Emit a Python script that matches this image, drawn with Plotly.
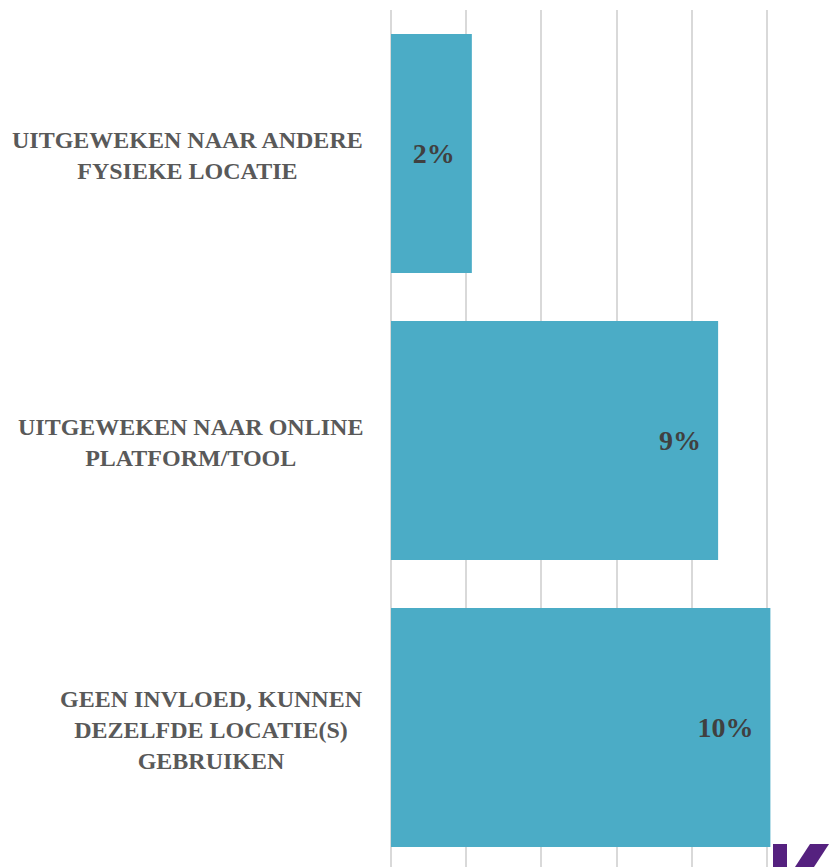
import plotly.graph_objects as go

categories = [
    "UITGEWEKEN NAAR ANDERE<br>FYSIEKE LOCATIE",
    "UITGEWEKEN NAAR ONLINE<br>PLATFORM/TOOL",
    "GEEN INVLOED, KUNNEN<br>DEZELFDE LOCATIE(S)<br>GEBRUIKEN",
]
values = [2.15, 8.7, 10.09]
value_labels = ["2%", "9%", "10%"]

W, H = 831, 867
L, R, T, B = 391, 0, 10, 0
plot_w = W - L - R
px_per_pct = 37.6

fig = go.Figure()
fig.add_trace(go.Bar(
    y=categories,
    x=values,
    orientation="h",
    marker=dict(color="#4BACC6", line=dict(width=0)),
    text=[t + "\u00a0\u00a0" for t in value_labels],
    textposition="inside",
    insidetextanchor="end",
    textangle=0,
    insidetextfont=dict(family="Liberation Serif", size=28, color="#404040", weight="bold"),
    hoverinfo="skip",
))

for c in categories:
    fig.add_annotation(
        x=-26 / plot_w, xref="paper", xanchor="right",
        y=c, yref="y", yanchor="middle", yshift=-2,
        text=c, showarrow=False, align="center",
        font=dict(family="Liberation Serif", size=24, color="#595959", weight="bold"),
    )

# decorative logo fragment at bottom-right
def px(xp):
    return (xp - L) / plot_w

def py(yp):
    return (H - B - yp) / (H - T - B)

fig.add_shape(type="rect", xref="paper", yref="paper",
              x0=px(773), x1=px(787), y0=py(867), y1=py(844),
              fillcolor="#55217F", line=dict(width=0), layer="above")
path = "M {} {} L {} {} L {} {} L {} {} Z".format(
    px(795), py(867), px(810), py(844), px(829), py(844), px(814), py(867))
fig.add_shape(type="path", xref="paper", yref="paper", path=path,
              fillcolor="#55217F", line=dict(width=0), layer="above")

fig.update_layout(
    width=W, height=H,
    margin=dict(l=L, r=R, t=T, b=B, pad=0),
    plot_bgcolor="white", paper_bgcolor="white",
    bargap=0.167,
    showlegend=False,
    xaxis=dict(
        range=[0, plot_w / px_per_pct],
        dtick=2, tick0=0,
        showgrid=True, gridcolor="#D9D9D9", gridwidth=2,
        zeroline=True, zerolinecolor="#D9D9D9", zerolinewidth=2,
        showticklabels=False, ticks="", showline=False,
        fixedrange=True,
    ),
    yaxis=dict(
        type="category",
        range=[2.486, -0.5],
        showticklabels=False, ticks="", showgrid=False, showline=False,
        zeroline=False, fixedrange=True,
    ),
)

fig.write_html(
    "out.html",
    config={"displayModeBar": False},
    post_script="document.body.style.margin='0';document.body.style.overflow='hidden';"
                "document.documentElement.style.overflow='hidden';",
)
